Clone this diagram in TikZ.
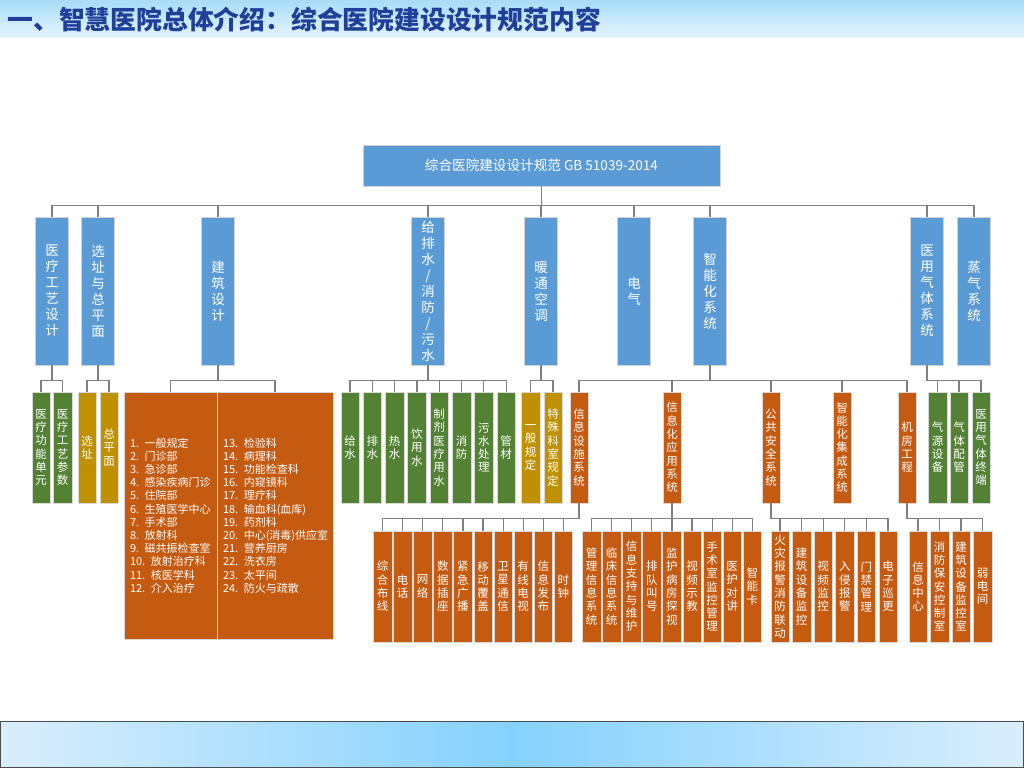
\documentclass[tikz,border=0pt]{standalone}
\usepackage{fontspec}
\setmainfont{Noto Sans CJK SC}

\definecolor{hblue}{HTML}{5B9BD5}
\definecolor{hgreen}{HTML}{548235}
\definecolor{hgold}{HTML}{BF9000}
\definecolor{horange}{HTML}{C55A11}
\definecolor{hline}{HTML}{808080}
\definecolor{htitle}{HTML}{1F3F99}
\definecolor{hbartop}{HTML}{A8DCF8}
\definecolor{hbarbot}{HTML}{E4F4FD}
\definecolor{hfootedge}{HTML}{DAEEFC}
\definecolor{hfootmid}{HTML}{85D1FE}

\tikzset{
  rootbox/.style={rectangle, draw=gray!35, fill=hblue, text=white, minimum width=357pt, minimum height=41pt, font=\fontsize{13.6}{15}\selectfont},
  topbox/.style={rectangle, draw=gray!35, fill=hblue, text=white, minimum width=33pt, minimum height=148pt, inner sep=0pt, align=center, font=\fontsize{13.5}{16}\selectfont},
  subbox/.style={rectangle, draw=gray!30, text=white, minimum width=18.5pt, minimum height=111pt, inner sep=0pt, align=center, font=\fontsize{11.5}{13.3}\selectfont},
  greenbox/.style={subbox, fill=hgreen},
  goldbox/.style={subbox, fill=hgold},
  orangebox/.style={subbox, fill=horange},
  bigbox/.style={rectangle, draw=gray!30, fill=horange, text=white, align=left, inner xsep=6pt, minimum height=247pt, font=\fontsize{11}{13.2}\selectfont},
}

\begin{document}
\begin{tikzpicture}[x=1pt, y=-1pt,
  conn/.style={draw=hline, line width=1.2pt}
]
  \useasboundingbox (0,0) rectangle (1024,768);
  \fill[white] (0,0) rectangle (1024,768);

  \shade[top color=hbartop, bottom color=hbarbot] (0,0) rectangle (1024,37);
  \draw[cyan!20, line width=1pt] (0,37) -- (1024,37);
  \node[anchor=west, text=htitle, font=\fontsize{25.8}{28}\selectfont\bfseries] (title) at (4,20)
       {一、智慧医院总体介绍：综合医院建设设计规范内容};

  \shade[left color=hfootedge, right color=hfootedge, middle color=hfootmid] (0,721) rectangle (1024,767);
  \draw[gray!60!black, line width=1pt] (0.5,721) rectangle (1023.5,767);

  \node[rootbox] (root) at (541.5,165.5) {综合医院建设设计规范 GB 51039-2014};

  \node[topbox] (gongyi) at (52,291) {医\\疗\\工\\艺\\设\\计};
  \node[topbox] (xuanzhi) at (98,291) {选\\址\\与\\总\\平\\面};
  \node[topbox] (jianzhu) at (218,291) {建\\筑\\设\\计};
  \node[topbox] (paishui) at (428,291) {给\\排\\水\\/\\消\\防\\/\\污\\水};
  \node[topbox] (nuantong) at (541,291) {暖\\通\\空\\调};
  \node[topbox] (dianqi) at (634,291) {电\\气};
  \node[topbox] (zhineng) at (710,291) {智\\能\\化\\系\\统};
  \node[topbox] (yiqi) at (927,291) {医\\用\\气\\体\\系\\统};
  \node[topbox] (zhengqi) at (974,291) {蒸\\气\\系\\统};
  \foreach \n in {gongyi,xuanzhi,jianzhu,paishui,nuantong,dianqi,zhineng,yiqi,zhengqi}
    \draw[conn] (root.south) |- ([yshift=11pt]\n.north) -- (\n.north);

  \node[greenbox] (gy1) at (41,447.5) {医\\疗\\功\\能\\单\\元};
  \node[greenbox] (gy2) at (62.5,447.5) {医\\疗\\工\\艺\\参\\数};
  \node[goldbox] (xz1) at (87,447.5) {选\\址};
  \node[goldbox] (xz2) at (109,447.5) {总\\平\\面};
  \foreach \n in {gy1,gy2}
    \draw[conn] (gongyi.south) |- ([yshift=11pt]\n.north) -- (\n.north);
  \foreach \n in {xz1,xz2}
    \draw[conn] (xuanzhi.south) |- ([yshift=11pt]\n.north) -- (\n.north);

  \node[bigbox, text width=81pt] (jzl) at (170.5,515.5)
       {1. 一般规定\\2. 门诊部\\3. 急诊部\\4. 感染疾病门诊\\5. 住院部\\6. 生殖医学中心\\7. 手术部\\8. 放射科\\9. 磁共振检查室\\10. 放射治疗科\\11. 核医学科\\12. 介入治疗};
  \node[bigbox, text width=104pt] (jzr) at (275,515.5)
       {13. 检验科\\14. 病理科\\15. 功能检查科\\16. 内窥镜科\\17. 理疗科\\18. 输血科(血库)\\19. 药剂科\\\mbox{20. 中心(消毒)供应室}\\21. 营养厨房\\22. 洗衣房\\23. 太平间\\24. 防火与疏散};
  \foreach \n in {jzl,jzr}
    \draw[conn] (jianzhu.south) |- ([yshift=11pt]\n.north) -- (\n.north);

  \foreach \txt [count=\i] in {{给\\水},{排\\水},{热\\水},{饮\\用\\水},{制\\剂\\医\\疗\\用\\水},{消\\防},{污\\水\\处\\理},{管\\材}} {
    \node[greenbox] (ps\i) at ({350+22.3*(\i-1)},447.5) {\txt};
    \draw[conn] (paishui.south) |- ([yshift=11pt]ps\i.north) -- (ps\i.north);
  }

  \node[goldbox] (nt1) at (530.5,447.5) {一\\般\\规\\定};
  \node[goldbox] (nt2) at (553,447.5) {特\\殊\\科\\室\\规\\定};
  \foreach \n in {nt1,nt2}
    \draw[conn] (nuantong.south) |- ([yshift=11pt]\n.north) -- (\n.north);

  \node[orangebox] (sheshi) at (579,447.5) {信\\息\\设\\施\\系\\统};
  \node[orangebox] (yingyong) at (672,447.5) {信\\息\\化\\应\\用\\系\\统};
  \node[orangebox] (anquan) at (771,447.5) {公\\共\\安\\全\\系\\统};
  \node[orangebox] (jicheng) at (842,447.5) {智\\能\\化\\集\\成\\系\\统};
  \node[orangebox] (jifang) at (907,447.5) {机\\房\\工\\程};
  \foreach \n in {sheshi,yingyong,anquan,jicheng,jifang}
    \draw[conn] (zhineng.south) |- ([yshift=11pt]\n.north) -- (\n.north);

  \node[greenbox] (qt1) at (937.5,447.5) {气\\源\\设\\备};
  \node[greenbox] (qt2) at (959,447.5) {气\\体\\配\\管};
  \node[greenbox] (qt3) at (981,447.5) {医\\用\\气\\体\\终\\端};
  \foreach \n in {qt1,qt2,qt3}
    \draw[conn] (yiqi.south) |- ([yshift=11pt]\n.north) -- (\n.north);

  \foreach \txt [count=\i] in {{综\\合\\布\\线},{电\\话},{网\\络},{数\\据\\插\\座},{紧\\急\\广\\播},{移\\动\\覆\\盖},{卫\\星\\通\\信},{有\\线\\电\\视},{信\\息\\发\\布},{时\\钟}} {
    \node[orangebox] (ss\i) at ({382.5+20.1*(\i-1)},586.5) {\txt};
    \draw[conn] (sheshi.south) |- ([yshift=12pt]ss\i.north) -- (ss\i.north);
  }
  \foreach \txt [count=\i] in {{管\\理\\信\\息\\系\\统},{临\\床\\信\\息\\系\\统},{信\\息\\支\\持\\与\\维\\护},{排\\队\\叫\\号},{监\\护\\病\\房\\探\\视},{视\\频\\示\\教},{手\\术\\室\\监\\控\\管\\理},{医\\护\\对\\讲},{智\\能\\卡}} {
    \node[orangebox] (yy\i) at ({591.5+20.1*(\i-1)},586.5) {\txt};
    \draw[conn] (yingyong.south) |- ([yshift=12pt]yy\i.north) -- (yy\i.north);
  }
  \foreach \txt [count=\i] in {{火\\灾\\报\\警\\消\\防\\联\\动},{建\\筑\\设\\备\\监\\控},{视\\频\\监\\控},{入\\侵\\报\\警},{门\\禁\\管\\理},{电\\子\\巡\\更}} {
    \node[orangebox] (aq\i) at ({780+21.6*(\i-1)},586.5) {\txt};
    \draw[conn] (anquan.south) |- ([yshift=12pt]aq\i.north) -- (aq\i.north);
  }
  \foreach \txt [count=\i] in {{信\\息\\中\\心},{消\\防\\保\\安\\控\\制\\室},{建\\筑\\设\\备\\监\\控\\室},{弱\\电\\间}} {
    \node[orangebox] (jf\i) at ({918+21.5*(\i-1)},586.5) {\txt};
    \draw[conn] (jifang.south) |- ([yshift=12pt]jf\i.north) -- (jf\i.north);
  }
\end{tikzpicture}
\end{document}
